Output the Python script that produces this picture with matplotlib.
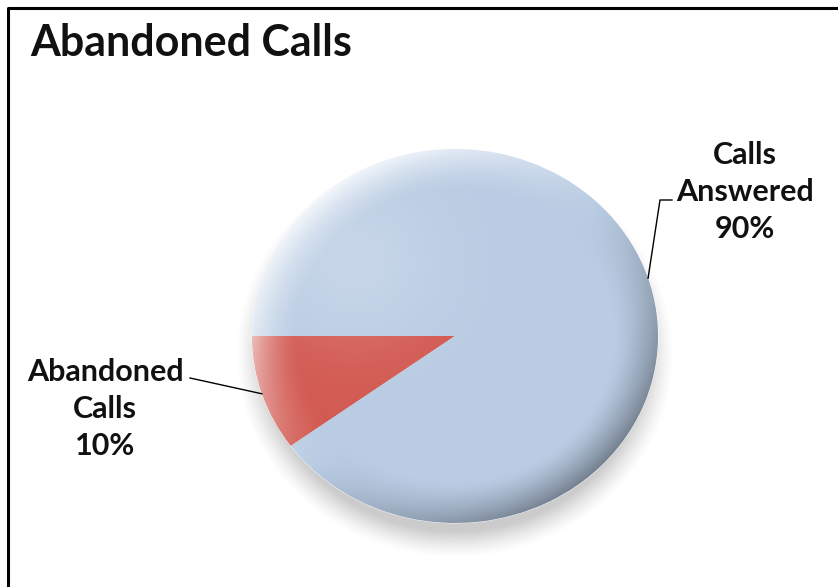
import numpy as np
import matplotlib
matplotlib.use("Agg")
import matplotlib.pyplot as plt
from matplotlib.lines import Line2D

# slice data
categories = ["Abandoned Calls", "Calls Answered"]
label_lines = [["Abandoned", "Calls"], ["Calls", "Answered"]]
values = [10, 90]
colors = ["#D25A52", "#B9CCE3"]

plt.rcParams["font.family"] = ["Lato", "DejaVu Sans"]

W, H = 838, 587
fig = plt.figure(figsize=(W / 100, H / 100), dpi=100)
fig.patch.set_facecolor("white")

# pie axes, slightly wider than tall like the bevelled 3d look
cx, cy, rx, ry = 455, 336, 203, 187
ax = fig.add_axes([(cx - rx) / W, 1 - (cy + ry) / H, 2 * rx / W, 2 * ry / H])

total = sum(values)
start = 180 + 360 * values[0] / total
wedges, _ = ax.pie(values, colors=colors, startangle=start, counterclock=False,
                   radius=1.0, wedgeprops=dict(edgecolor="white", linewidth=0.6))
ax.set_aspect("auto")
ax.set_xlim(-1, 1)
ax.set_ylim(-1, 1)
ax.axis("off")

# soft shadow under the pie
n = 400
ext = (-1.2, 1.2, -1.2, 1.2)
gx, gy = np.meshgrid(np.linspace(-1.2, 1.2, n), np.linspace(-1.2, 1.2, n))
rs = np.hypot(gx / 0.99, (gy + 0.1) / 1.0)
shadow = np.zeros((n, n, 4))
shadow[..., :3] = 0.5
shadow[..., 3] = 0.4 * np.clip((1.09 - rs) / 0.14, 0, 1) ** 1.3
sh = ax.imshow(shadow, extent=ext, origin="lower", zorder=0,
               interpolation="bilinear", aspect="auto")
sh.set_clip_on(False)

# bevel shading: bright rim toward upper-left, darker rim toward lower-right
r = np.hypot(gx, gy) + 1e-9
d = (gx * -0.7 + gy * 0.7) / r
rim = np.clip((r - 0.78) / 0.22, 0, 1) ** 1.4
glow = np.exp(-((gx + 0.5) ** 2 + (gy - 0.4) ** 2) / 0.2) * 0.2
k = np.where(d >= 0, rim * 0.85 * d, rim * 0.38 * d) + glow * (1 - rim)

for w, c in zip(wedges, colors):
    base = np.array(matplotlib.colors.to_rgb(c))
    kk = k[..., None]
    img = np.where(kk >= 0, base + (1 - base) * kk, base * (1 + kk))
    img = np.clip(img, 0, 1)
    im = ax.imshow(img, extent=ext, origin="lower", zorder=2,
                   interpolation="bilinear", aspect="auto")
    im.set_clip_path(w)

# title
fig.text(30 / W, 1 - 43 / H, "Abandoned Calls", fontsize=31, fontweight="bold",
         ha="left", va="center", color="#111111")

# data labels with leader lines
to_fig = ax.transData + fig.transFigure.inverted()
label_pos = [(105, 409), (745, 192)]
leaders = [[(190, 378)], [(660, 200), (672, 200)]]
for w, lines, v, (lx, ly), lead in zip(wedges, label_lines, values, label_pos, leaders):
    mid = np.deg2rad((w.theta1 + w.theta2) / 2)
    ex, ey = to_fig.transform((np.cos(mid), np.sin(mid)))
    pts = [(ex, ey)] + [(px / W, 1 - py / H) for px, py in lead]
    fig.add_artist(Line2D([p[0] for p in pts], [p[1] for p in pts],
                          transform=fig.transFigure, color="black", lw=1.0))
    txt = "\n".join(lines + [f"{round(100 * v / total)}%"])
    fig.text(lx / W, 1 - ly / H, txt, fontsize=22, fontweight="bold",
             ha="center", va="center", linespacing=1.4, color="#111111")

# chart frame (top and left edges)
fig.add_artist(Line2D([8 / W, 8 / W, 1], [0, 1 - 8 / H, 1 - 8 / H],
                      transform=fig.transFigure, color="black", lw=2.2))

fig.savefig("out.png", dpi=100)
